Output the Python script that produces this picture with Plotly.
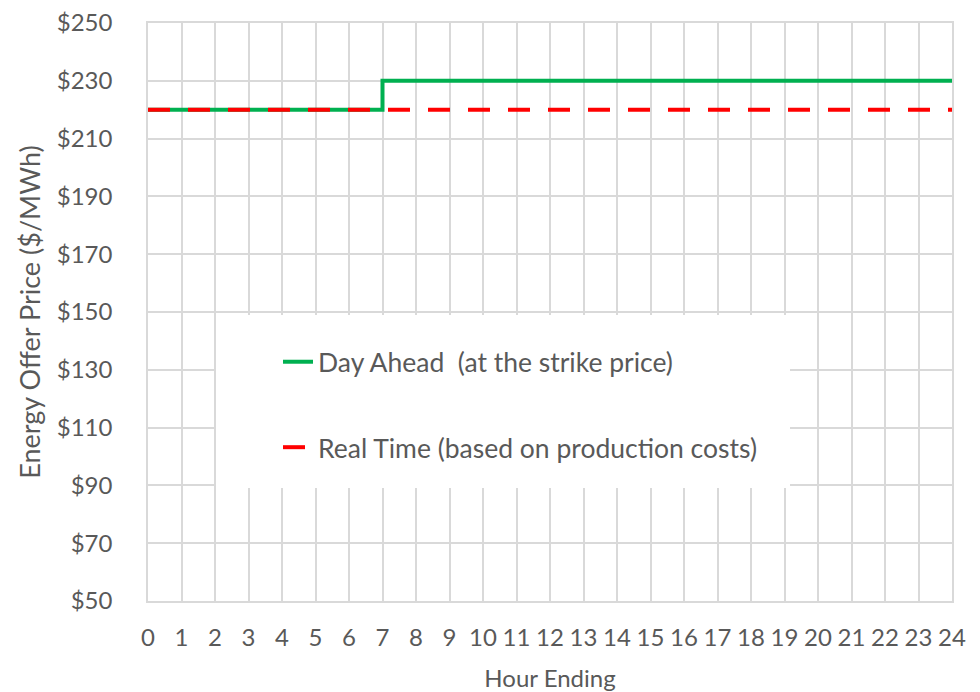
import plotly.graph_objects as go

hours = list(range(0, 25))
day_ahead = [220, 220, 220, 220, 220, 220, 220, 230, 230, 230, 230, 230, 230,
             230, 230, 230, 230, 230, 230, 230, 230, 230, 230, 230, 230]
real_time = [220] * 25
y_ticks = [50, 70, 90, 110, 130, 150, 170, 190, 210, 230, 250]
y_tick_labels = ["$" + str(v) for v in y_ticks]

FONT = "Lato"
GREY = "#595959"
GRID = "#d9d9d9"

fig = go.Figure()
fig.add_trace(go.Scatter(
    x=hours, y=day_ahead, mode="lines", line_shape="hv",
    name="Day Ahead  (at the strike price)",
    line=dict(color="#00B050", width=4),
    legendgroup="a",
))
fig.add_trace(go.Scatter(
    x=hours, y=real_time, mode="lines",
    name="Real Time (based on production costs)",
    line=dict(color="#FF0000", width=4, dash="22px,18px"),
    legendgroup="b",
))

# white legend background panel (paper coordinates)
fig.add_shape(type="rect", xref="paper", yref="paper",
              x0=0.0846, x1=0.7985, y0=0.1955, y1=0.4948,
              fillcolor="white", line=dict(width=0), layer="above")

# the page body has an 8px default margin, so the figure is sized to fit
fig.update_layout(
    width=972, height=684,
    margin=dict(l=140, r=28, t=15, b=91, autoexpand=False),
    plot_bgcolor="white", paper_bgcolor="white",
    font=dict(family=FONT, size=22, color=GREY),
    showlegend=True,
    legend=dict(
        x=0.1617, y=0.4550, xanchor="left", yanchor="top",
        bgcolor="rgba(0,0,0,0)", traceorder="grouped",
        tracegroupgap=48, font=dict(family=FONT, size=26.5, color=GREY),
    ),
    xaxis=dict(
        range=[0, 24], tickmode="array", tickvals=hours,
        ticktext=[str(h) for h in hours], automargin=False,
        showgrid=True, gridcolor=GRID, gridwidth=1.5,
        showline=True, linecolor=GRID, linewidth=1.5, mirror=True,
        zeroline=False, ticks="", ticklabelstandoff=14,
        ticklabeloverflow="allow",
        tickfont=dict(family=FONT, size=24, color=GREY),
        title=dict(text="Hour Ending", standoff=21,
                   font=dict(family=FONT, size=24, color=GREY)),
    ),
    yaxis=dict(
        range=[50, 250], tickmode="array", tickvals=y_ticks,
        ticktext=y_tick_labels, automargin=False,
        showgrid=True, gridcolor=GRID, gridwidth=1.5,
        showline=True, linecolor=GRID, linewidth=1.5, mirror=True,
        zeroline=False, ticks="", ticklabelstandoff=29,
        ticklabeloverflow="allow",
        tickfont=dict(family=FONT, size=24, color=GREY),
        title=dict(text="Energy Offer Price ($/MWh)", standoff=8,
                   font=dict(family=FONT, size=27, color=GREY)),
    ),
)

fig.write_html("out.html")
